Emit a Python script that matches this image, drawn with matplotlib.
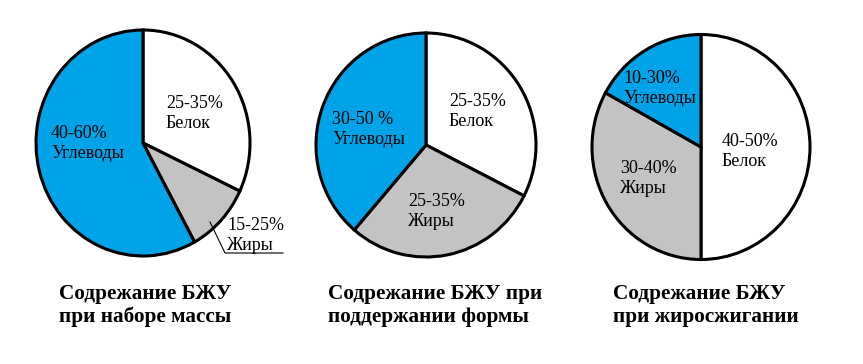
import matplotlib
matplotlib.use("Agg")
import matplotlib.pyplot as plt

# share of each nutrient in the pie, clockwise from top
nutrients = ["Белок", "Жиры", "Углеводы"]
mass_gain = [32, 10, 58]
maintain = [32.5, 28.8, 38.7]
fat_burn = [50, 33, 17]

# range labels for each slice
mass_gain_labels = ["25-35%", "15-25%", "40-60%"]
maintain_labels = ["25-35%", "25-35%", "30-50 %"]
fat_burn_labels = ["40-50%", "30-40%", "10-30%"]

titles = [
    ("Содрежание БЖУ", "при наборе массы"),
    ("Содрежание БЖУ при", "поддержании формы"),
    ("Содрежание БЖУ", "при жиросжигании"),
]

colors = ["white", "#c3c3c3", "#00a2e8"]

plt.rcParams["font.family"] = "serif"
plt.rcParams["font.serif"] = ["Liberation Serif", "DejaVu Serif"]

W, H = 863, 364
fig = plt.figure(figsize=(W / 100, H / 100), dpi=100)
fig.patch.set_facecolor("white")

# pie boxes in pixels: centre x, centre y (from top), half width, half height
boxes = [(143, 143, 107, 113), (426, 145, 110, 112), (701, 147, 109, 112.5)]
series = [mass_gain, maintain, fat_burn]
pad = 1.05

for (cx, cy, rx, ry), vals in zip(boxes, series):
    ax = fig.add_axes([(cx - rx * pad) / W, (H - cy - ry * pad) / H,
                       2 * rx * pad / W, 2 * ry * pad / H])
    ax.pie(vals, colors=colors, startangle=90, counterclock=False, radius=1,
           wedgeprops=dict(edgecolor="black", linewidth=2.2))
    ax.set_aspect("auto")
    ax.set_xlim(-pad, pad)
    ax.set_ylim(-pad, pad)
    ax.axis("off")

# overlay in pixel coordinates for texts
ov = fig.add_axes([0, 0, 1, 1])
ov.set_xlim(0, W)
ov.set_ylim(H, 0)
ov.axis("off")
ov.patch.set_alpha(0)

# slice label positions (x, first baseline): Белок, Жиры, Углеводы per pie
label_pos = [
    [(166, 107.5), (227, 230.5), (51, 138)],
    [(449, 106.5), (408, 206.5), (332, 123.5)],
    [(722, 146.5), (620, 173), (623, 83)],
]
all_labels = [mass_gain_labels, maintain_labels, fat_burn_labels]
for pos, labs in zip(label_pos, all_labels):
    for (x, y), lab, name in zip(pos, labs, nutrients):
        ov.text(x, y, lab, fontsize=13, ha="left", va="baseline")
        ov.text(x, y + 20, name, fontsize=13, ha="left", va="baseline")

# leader line for the small slice
ov.plot([210, 225, 283], [222, 253, 253], color="black", linewidth=0.8)

title_x = [59, 328, 613]
for x, (l1, l2) in zip(title_x, titles):
    ov.text(x, 299, l1, fontsize=15.3, fontweight="bold", ha="left", va="baseline")
    ov.text(x, 322, l2, fontsize=15.3, fontweight="bold", ha="left", va="baseline")

fig.savefig("out.png", dpi=100)
